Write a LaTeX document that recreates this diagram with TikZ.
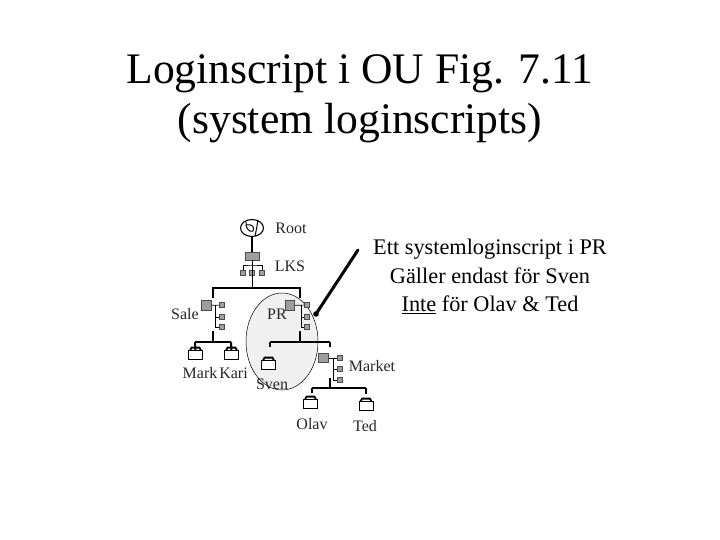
\documentclass[tikz,border=0pt]{standalone}
\usepackage{fontspec}
\setmainfont{Liberation Serif}
\usetikzlibrary{shapes.geometric}
\tikzset{
 x=1pt,y=-1pt,
 lab/.style={inner sep=0pt,font=\fontsize{16}{18}\selectfont,text=black!85},
 big/.style={inner sep=0pt,black,font=\fontsize{22.3}{28.5}\selectfont,align=center},
 ttl/.style={inner sep=0pt,align=center,font=\fontsize{43.6}{50}\selectfont},
 cbox/.style={draw=black!70,fill=black!38,line width=.6pt,inner sep=0pt,minimum width=9.5pt,minimum height=9.5pt},
 lkbox/.style={cbox,minimum width=14pt,minimum height=8pt},
 sbox/.style={cbox,minimum width=4.5pt,minimum height=4.5pt},
 thin line/.style={line width=.7pt,black},
 thick line/.style={line width=2pt,black},
 pcbody/.style={draw=black,fill=white,line width=.8pt,inner sep=0pt,minimum width=14pt,minimum height=9pt},
}
\newcommand{\pcnode}[3]{%
 \node[pcbody] (#1) at (#2,#3) {};
 \draw[line width=1.8pt,black] ([xshift=2pt]#1.north west) -- ([xshift=3.5pt,yshift=2.5pt]#1.north west) -- ([xshift=-3.5pt,yshift=2.5pt]#1.north east) -- ([xshift=-2pt]#1.north east);
}
\begin{document}
\begin{tikzpicture}
\useasboundingbox (0,0) rectangle (720,540);
\fill[white] (0,0) rectangle (720,540);
\node[ttl] (title) at (360,99) {Loginscript i OU Fig. 7.11\\(system loginscripts)};
% shaded region
\node[ellipse,draw=black,fill=black!6,line width=.5pt,minimum width=72pt,minimum height=97pt,inner sep=0pt] (region) at (282,341.5) {};
% root
\node[ellipse,draw=black,line width=1.1pt,minimum width=23pt,minimum height=17pt,inner sep=0pt] (root) at (252,228) {};
\draw[line width=1pt] (246,222) .. controls (245,227) and (249,233) .. (253,231) .. controls (255,227) and (252,224) .. (247,225);
\draw[line width=1pt] (258,220) .. controls (257,226) and (256,232) .. (255,236);
\node[lkbox] (lks) at (252,256) {};
\node[sbox] (l1) at (243,273) {};
\node[sbox] (l2) at (252,273) {};
\node[sbox] (l3) at (262,273) {};
\coordinate (lj) at (252,265);
\coordinate (lbar) at (252,288);
\draw[thick line] (root) -- (lks);
\draw[thin line] (lks) -- (lj) (lj) -- (lbar);
\draw[thin line] (l1.north) |- (lj) -| (l3.north);
\draw[thin line] (lj) -- (l2.north);
% Sale
\node[cbox] (sale) at (206.5,305.5) {};
\node[sbox] (s1) at (222,305) {};
\node[sbox] (s2) at (222,317) {};
\node[sbox] (s3) at (222,327) {};
\coordinate (sv) at (215,305);
\coordinate (sb) at (213,342);
\draw[thin line] (sale) -- (s1);
\draw[thin line] (sv) |- (s2);
\draw[thin line] (sv) |- (s3);
% PR
\node[cbox] (pr) at (290,305.5) {};
\node[sbox] (p1) at (307,305) {};
\node[sbox] (p2) at (307,317) {};
\node[sbox] (p3) at (307,327) {};
\coordinate (pv) at (301,305);
\coordinate (pb) at (300,342);
\draw[thin line] (pr) -- (p1);
\draw[thin line] (pv) |- (p2);
\draw[thin line] (pv) |- (p3);
% top bar
\coordinate (ts) at (213,288);
\coordinate (tp) at (300,288);
\draw[thick line,line cap=square] (lbar) -- (ts) -- (213,298);
\draw[thick line,line cap=square] (lbar) -- (tp) -- (300,298);
% Mark Kari
\pcnode{mark}{195.5}{355}
\pcnode{kari}{231.5}{355}
\coordinate (sm) at (195,342);
\coordinate (sk) at (231,342);
\draw[thick line] (213,331) -- (sb);
\draw[thick line,line cap=square] (sm) -- (sk);
\draw[thick line] (sm) -- (mark.north);
\draw[thick line] (sk) -- (kari.north);
% PR children
\pcnode{sven}{268.5}{365}
\coordinate (ps) at (270,342);
\coordinate (pm) at (330,342);
\draw[thick line] (300,331) -- (pb);
\draw[thick line,line cap=square] (ps) -- (pm);
\draw[thick line] (ps) -- (270,347);
\draw[thick line] (pm) -- (330,347);
% Market
\node[cbox] (market) at (323.5,358) {};
\node[sbox] (m1) at (340,358) {};
\node[sbox] (m2) at (340,369) {};
\node[sbox] (m3) at (340,380) {};
\coordinate (mv) at (333,358);
\coordinate (mb) at (330,388);
\draw[thin line] (market) -- (m1);
\draw[thin line] (mv) |- (m2);
\draw[thin line] (mv) |- (m3);
\draw[thick line] (330,378) -- (mb);
\pcnode{olav}{310.5}{404}
\pcnode{ted}{366}{406}
\coordinate (mo) at (312,388);
\coordinate (mt) at (366,388);
\draw[thick line,line cap=square] (mo) -- (mt);
\draw[thick line] (mo) -- (312,393);
\draw[thick line] (mt) -- (366,394);
% labels
\node[lab] (lroot) at (291,228) {Root};
\node[lab] (llks) at (290,266) {LKS};
\node[lab] (lsale) at (185,314) {Sale};
\node[lab] (lpr) at (277,314) {PR};
\node[lab] (lmark) at (200,373) {Mark};
\node[lab] (lkari) at (233.5,373) {Kari};
\node[lab] (lsven) at (272,384) {Sven};
\node[lab] (lmarket) at (372,366) {Market};
\node[lab] (lolav) at (312,424) {Olav};
\node[lab] (lted) at (365,426) {Ted};
% note
\node[big] (note) at (490,276.5) {Ett systemloginscript i PR\\Gäller endast för Sven\\\underline{Inte} för Olav \& Ted};
\coordinate (tip) at (316,314);
\coordinate (tail) at (358,250);
\draw[line width=3pt,black,line cap=round] (tail) -- (tip);
\fill[black] (tip) circle (2.8pt);
\end{tikzpicture}
\end{document}
